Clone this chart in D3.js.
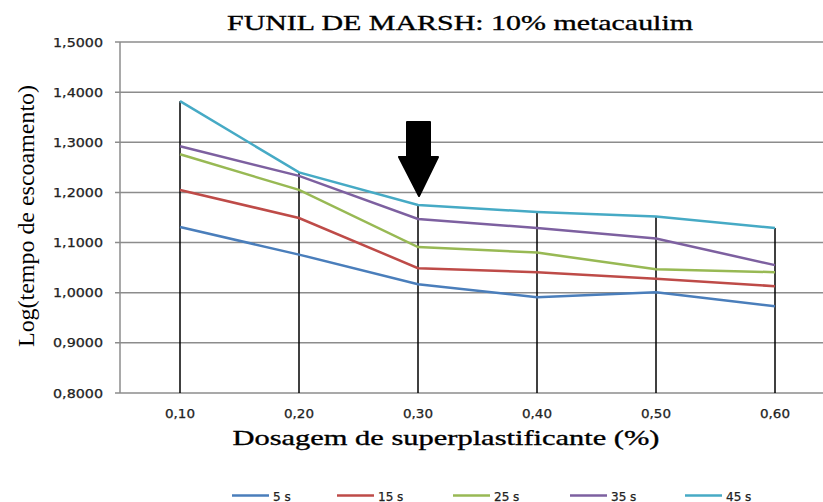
<!DOCTYPE html>
<html><head><meta charset="utf-8">
<script src="https://cdn.jsdelivr.net/npm/d3@7"></script>
<style>body{margin:0;background:#fff}svg{display:block}</style>
</head><body>
<svg id="c" width="823" height="502"></svg>
<script>
const categories = ["0,10","0,20","0,30","0,40","0,50","0,60"];
const seriesNames = ["5 s","15 s","25 s","35 s","45 s"];
const s5  = [1.131, 1.076, 1.017, 0.991, 1.001, 0.973];
const s15 = [1.205, 1.149, 1.049, 1.041, 1.028, 1.013];
const s25 = [1.276, 1.205, 1.091, 1.080, 1.047, 1.041];
const s35 = [1.292, 1.233, 1.147, 1.129, 1.108, 1.055];
const s45 = [1.382, 1.240, 1.175, 1.161, 1.152, 1.129];
const yTicks = [0.8,0.9,1.0,1.1,1.2,1.3,1.4,1.5];
const colors = ["#4a7ebb","#be4b48","#98b954","#7d60a0","#46aac5"];
const title = "FUNIL DE MARSH: 10% metacaulim";
const xTitle = "Dosagem de superplastificante (%)";
const yTitle = "Log(tempo de escoamento)";
const arrowCategory = "0,30";

const series = [s5,s15,s25,s35,s45];
const svg = d3.select("#c");
const x = d3.scaleBand().domain(categories).range([120.5, 834.5]);
const cx = c => x(c) + x.bandwidth()/2;
const y = d3.scaleLinear().domain([0.8,1.5]).range([393,42]);
const fmt = v => v.toFixed(4).replace(".", ",");

// gridlines
svg.append("g").selectAll("line").data(yTicks).join("line")
  .attr("x1",115).attr("x2",823).attr("y1",d=>y(d)).attr("y2",d=>y(d))
  .attr("stroke","#8c8c8c").attr("stroke-width",1.5);
svg.append("line").attr("x1",120).attr("x2",120).attr("y1",y(1.5)).attr("y2",y(0.8))
  .attr("stroke","#8c8c8c").attr("stroke-width",1.5);

// y tick labels
svg.append("g").selectAll("text").data(yTicks).join("text")
  .attr("x",103).attr("y",d=>y(d)+4.5).attr("text-anchor","end")
  .attr("font-family","DejaVu Sans").attr("font-size",12).attr("fill","#222")
  .attr("stroke","#222").attr("stroke-width",0.25)
  .attr("textLength",50).attr("lengthAdjust","spacingAndGlyphs")
  .text(fmt);

// x tick labels
svg.append("g").selectAll("text").data(categories).join("text")
  .attr("x",d=>cx(d)).attr("y",418).attr("text-anchor","middle")
  .attr("font-family","DejaVu Sans").attr("font-size",12).attr("fill","#222")
  .attr("stroke","#222").attr("stroke-width",0.25)
  .attr("textLength",30).attr("lengthAdjust","spacingAndGlyphs")
  .text(d=>d);

// drop lines
const maxes = categories.map((c,i)=>d3.max(series, s=>s[i]));
svg.append("g").selectAll("line").data(categories).join("line")
  .attr("x1",d=>cx(d)).attr("x2",d=>cx(d))
  .attr("y1",(d,i)=>y(maxes[i])).attr("y2",y(0.8))
  .attr("stroke","#000").attr("stroke-width",1.5);

// series lines
const line = d3.line().x((d,i)=>cx(categories[i])).y(d=>y(d));
svg.append("g").selectAll("path").data(series).join("path")
  .attr("d",line).attr("fill","none")
  .attr("stroke",(d,i)=>colors[i]).attr("stroke-width",2.5);

// arrow
const ax = cx(arrowCategory);
svg.append("path")
  .attr("d",`M${ax-11},122 L${ax+12},122 L${ax+12},157 L${ax+20},157 L${ax+1},196 L${ax-19},157 L${ax-11},157 Z`)
  .attr("fill","#000").attr("stroke","#000").attr("stroke-linejoin","round").attr("stroke-width",2);

// titles
svg.append("text").attr("x",460).attr("y",30).attr("text-anchor","middle")
  .attr("font-family","Liberation Serif").attr("font-size",22).attr("fill","#000")
  .attr("stroke","#000").attr("stroke-width",0.35)
  .attr("textLength",466).attr("lengthAdjust","spacingAndGlyphs").text(title);
svg.append("text").attr("x",446).attr("y",445).attr("text-anchor","middle")
  .attr("font-family","Liberation Serif").attr("font-size",22).attr("fill","#000")
  .attr("stroke","#000").attr("stroke-width",0.35)
  .attr("textLength",427).attr("lengthAdjust","spacingAndGlyphs").text(xTitle);
svg.append("text").attr("transform","translate(34,216) rotate(-90)").attr("text-anchor","middle")
  .attr("font-family","Liberation Serif").attr("font-size",24).attr("fill","#000")
  .attr("textLength",262).attr("lengthAdjust","spacingAndGlyphs").text(yTitle);

// legend
const legX = [232,337,453,570,685];
const lg = svg.append("g").selectAll("g").data(seriesNames).join("g")
  .attr("transform",(d,i)=>`translate(${legX[i]},495.5)`);
lg.append("line").attr("x1",0).attr("x2",37).attr("stroke",(d,i)=>colors[i]).attr("stroke-width",2.5);
lg.append("text").attr("x",41).attr("y",5)
  .attr("font-family","DejaVu Sans").attr("font-size",12).attr("fill","#222")
  .attr("stroke","#222").attr("stroke-width",0.25)
  .text(d=>d);
</script>
</body></html>
